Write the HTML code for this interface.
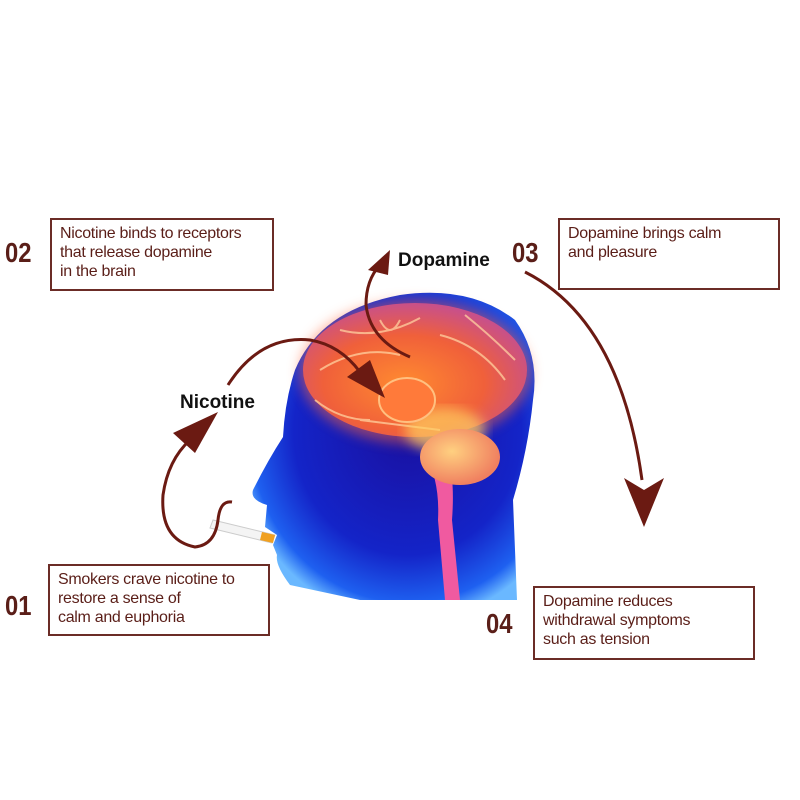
<!DOCTYPE html>
<html><head><meta charset="utf-8"><style>
body{margin:0;width:800px;height:800px;background:#fff;position:relative;overflow:hidden;font-family:"Liberation Sans",sans-serif}
.box{position:absolute;border:2px solid #6b2c26;color:#5a1e18;font-size:16px;line-height:19px;padding:4px 8px;box-sizing:border-box;letter-spacing:-0.3px}
.num{position:absolute;color:#5a1e18;font-weight:bold;font-size:28px;transform:scaleX(0.85);transform-origin:left}
svg{position:absolute;left:0;top:0}
</style></head><body>
<svg width="800" height="800" viewBox="0 0 800 800">
<defs>
<radialGradient id="hg" cx="0.55" cy="0.45" r="0.62">
<stop offset="0" stop-color="#1a10a0"/><stop offset="0.65" stop-color="#1424c8"/><stop offset="0.9" stop-color="#1e60f0"/><stop offset="1" stop-color="#6ab8ff"/>
</radialGradient>
<radialGradient id="bg" cx="0.45" cy="0.6" r="0.6">
<stop offset="0" stop-color="#ff8a30"/><stop offset="0.6" stop-color="#f0603a"/><stop offset="1" stop-color="#c8508a"/>
</radialGradient>
<radialGradient id="cg" cx="0.4" cy="0.4" r="0.6">
<stop offset="0" stop-color="#ffd080"/><stop offset="1" stop-color="#f08060"/>
</radialGradient>
<filter id="bl"><feGaussianBlur stdDeviation="6"/></filter>
</defs>
<path d="M360,600 L290,585 Q275,565 277,555 L273,545 L277,535 L265,527 L267,505 Q250,500 253,490 Q268,460 283,437 Q285,400 295,370 Q320,310 400,295 Q470,285 515,320 Q540,355 533,400 Q528,450 513,500 L517,600 Z" fill="url(#hg)"/>
<ellipse cx="415" cy="372" rx="116" ry="72" fill="#ff6a40" opacity="0.5" filter="url(#bl)"/>
<ellipse cx="415" cy="370" rx="112" ry="67" fill="url(#bg)"/>
<path d="M320,370 Q360,345 400,355 M340,330 Q380,340 420,318 M440,335 Q480,345 505,380 M360,420 Q400,425 440,430 M465,315 Q490,335 515,360 M315,400 Q340,420 370,420 M380,320 Q390,340 400,320" stroke="#ffd2a0" stroke-width="2" fill="none" opacity="0.75"/>
<ellipse cx="445" cy="430" rx="40" ry="22" fill="#ffd060" opacity="0.7" filter="url(#bl)"/>
<ellipse cx="407" cy="400" rx="28" ry="22" fill="#ff7a3a" stroke="#ffc080" stroke-width="2"/>
<path d="M425,455 Q440,480 438,520 L445,600 L460,600 L452,520 Q455,480 448,458 Z" fill="#f05aa0"/>
<ellipse cx="460" cy="457" rx="40" ry="28" fill="url(#cg)"/>
<path d="M275,535 L213,520 L210,528 L272,543 Z" fill="#f4f4f4" stroke="#ccc"/>
<path d="M262,532 L275,535 L273,543 L260,540 Z" fill="#f0a020"/>
<g stroke="#6b1a12" fill="none" stroke-width="3">
<path d="M232,502 Q220,500 218,520 Q215,545 195,547 Q160,540 163,495 Q168,460 190,440"/>
<path d="M228,385 Q260,335 310,340 Q340,345 360,372"/>
<path d="M410,357 Q370,340 366,305 Q366,280 380,265"/>
<path d="M525,272 Q620,320 642,480"/>
</g>
<g fill="#6b1a12">
<path d="M218,412 L173,433 L195,453 Z"/>
<path d="M385,398 L347,377 L370,360 Z"/>
<path d="M390,250 L368,270 L388,275 Z"/>
<path d="M644,527 L624,478 L644,490 L664,478 Z"/>
</g>
<text x="180" y="408" font-family="Liberation Sans" font-weight="bold" font-size="19" fill="#111">Nicotine</text>
<text x="398" y="266" font-family="Liberation Sans" font-weight="bold" font-size="19" fill="#111">Dopamine</text>
</svg>
<div class="num" style="left:5px;top:237px">02</div>
<div class="box" style="left:50px;top:218px;width:224px;height:73px">Nicotine binds to receptors<br>that release dopamine<br>in the brain</div>
<div class="num" style="left:512px;top:237px">03</div>
<div class="box" style="left:558px;top:218px;width:222px;height:72px">Dopamine brings calm<br>and pleasure</div>
<div class="num" style="left:5px;top:590px">01</div>
<div class="box" style="left:48px;top:564px;width:222px;height:72px">Smokers crave nicotine to<br>restore a sense of<br>calm and euphoria</div>
<div class="num" style="left:486px;top:608px">04</div>
<div class="box" style="left:533px;top:586px;width:222px;height:74px">Dopamine reduces<br>withdrawal symptoms<br>such as tension</div>
</body></html>
